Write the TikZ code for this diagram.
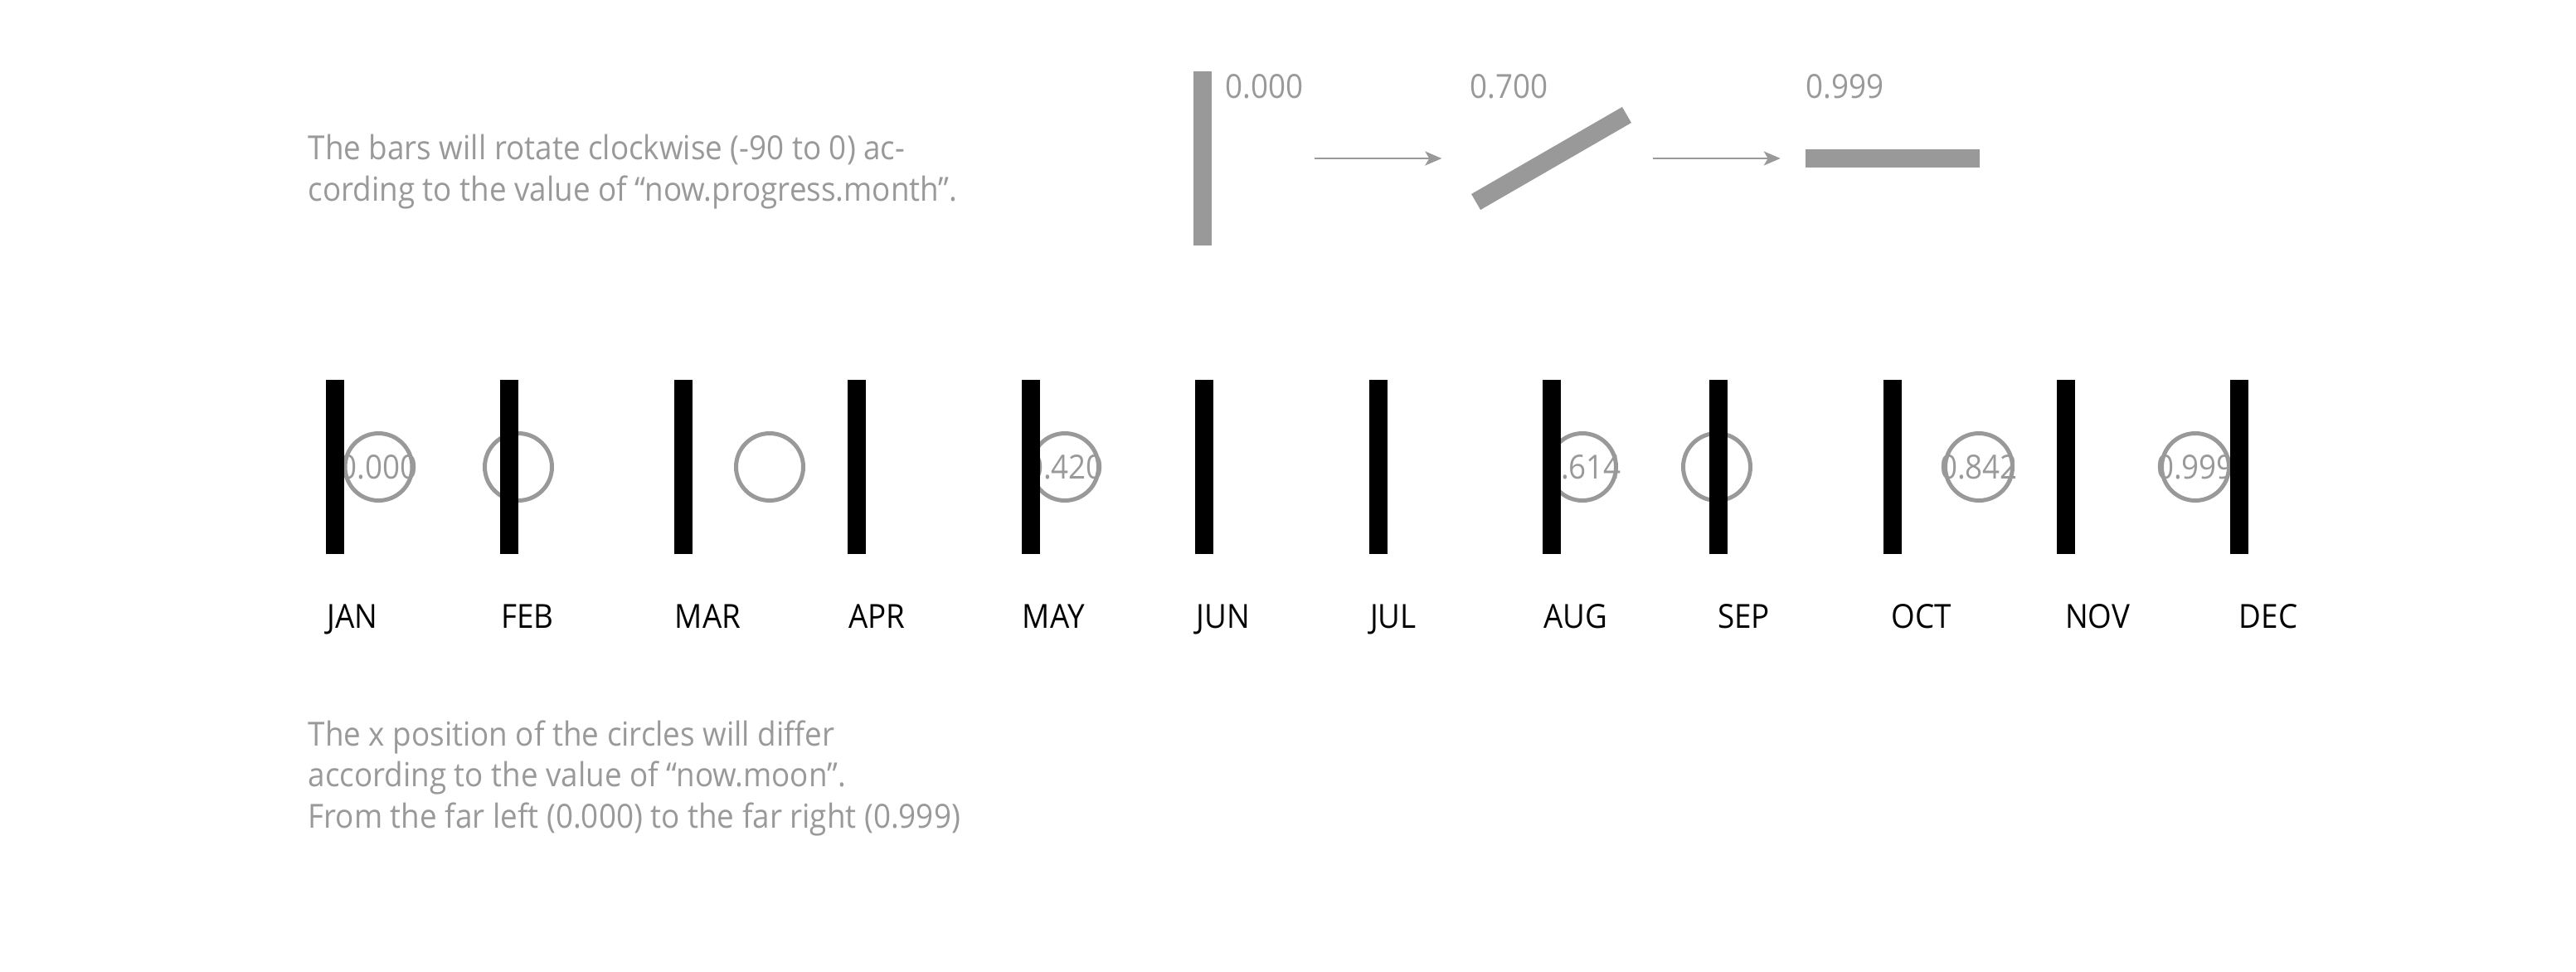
\documentclass[tikz,border=0pt]{standalone}
\usepackage{fontspec}
\setmainfont{Open Sans}[FakeStretch=0.92]
\usetikzlibrary{arrows.meta}
\definecolor{tg}{RGB}{153,153,153}
\begin{document}
\begin{tikzpicture}[x=1cm,y=1cm,
  fnt/.style={font=\fontsize{11.38pt}{14.08pt}\selectfont},
  note/.style={fnt, text=tg, inner sep=0pt, anchor=base west},
  month/.style={fnt, text=black, inner sep=0pt, anchor=base west},
  monthbar/.style={fill=black, draw=none, minimum width=0.22cm, minimum height=2.1cm, inner sep=0pt},
  greybar/.style={fill=tg, draw=none, minimum width=0.22cm, minimum height=2.1cm, inner sep=0pt},
  moon/.style={circle, draw=tg, line width=0.05cm, minimum size=0.81cm, inner sep=0pt},
  moonval/.style={fnt, text=tg, inner sep=0pt},
  arr/.style={draw=tg, line width=0.02cm, -{Stealth[length=0.2cm,width=0.17cm,inset=0.05cm]}}
]
\useasboundingbox (0,0) rectangle (31.06,-11.71);

% ---- top explanation ----
\node[note] (t1) at (3.71,-1.925) {The bars will rotate clockwise (-90 to 0) ac-};
\node[note] (t2) at (3.71,-2.42) {cording to the value of “now.progress.month”.};

\node[greybar] (v0) at (14.50,-1.91) {};
\node[greybar, minimum width=2.1cm, minimum height=0.22cm, rotate=30] (v1) at (18.705,-1.91) {};
\node[greybar, minimum width=2.1cm, minimum height=0.22cm] (v2) at (22.817,-1.91) {};

\node[note] (l0) at (14.767,-1.18) {0.000};
\node[note] (l1) at (17.717,-1.18) {0.700};
\node[note] (l2) at (21.767,-1.18) {0.999};

\coordinate (a1s) at (15.85,-1.91);
\coordinate (a1e) at (17.383,-1.91);
\coordinate (a2s) at (19.933,-1.91);
\coordinate (a2e) at (21.467,-1.91);
\draw[arr] (a1s) -- (a1e);
\draw[arr] (a2s) -- (a2e);

% ---- moons (drawn beneath the bars) ----
\node[moon] (c1) at (4.565,-5.63) {};
\node[moonval] at (c1) {0.000};
\node[moon] (c2) at (6.25,-5.63) {};
\node[moon] (c3) at (9.28,-5.63) {};
\node[moon] (c5) at (12.84,-5.63) {};
\node[moonval] at (c5) {0.420};
\node[moon] (c8) at (19.08,-5.63) {};
\node[moonval] at (c8) {0.614};
\node[moon] (c9) at (20.70,-5.63) {};
\node[moon] (c10) at (23.86,-5.63) {};
\node[moonval] at (c10) {0.842};
\node[moon] (c12) at (26.47,-5.63) {};
\node[moonval] at (c12) {0.999};

% ---- month bars ----
\foreach \x/\n in {4.04/jan,6.14/feb,8.24/mar,10.33/apr,12.43/may,14.52/jun,16.62/jul,18.71/aug,20.72/sep,22.82/oct,24.91/nov,27.00/dec}{
  \node[monthbar] (\n) at (\x,-5.63) {};
}
\foreach \n/\t [count=\k from 0] in {jan/JAN,feb/FEB,mar/MAR,apr/APR,may/MAY,jun/JUN,jul/JUL,aug/AUG,sep/SEP,oct/OCT,nov/NOV,dec/DEC}{
  \node[month] (lab\n) at ({3.94+2.0955*\k},-7.57) {\t};
}

% ---- bottom explanation ----
\node[note] (b1) at (3.71,-8.99) {The x position of the circles will differ};
\node[note] (b2) at (3.71,-9.485) {according to the value of “now.moon”.};
\node[note] (b3) at (3.71,-9.98) {From the far left (0.000) to the far right (0.999)};
\end{tikzpicture}
\end{document}
